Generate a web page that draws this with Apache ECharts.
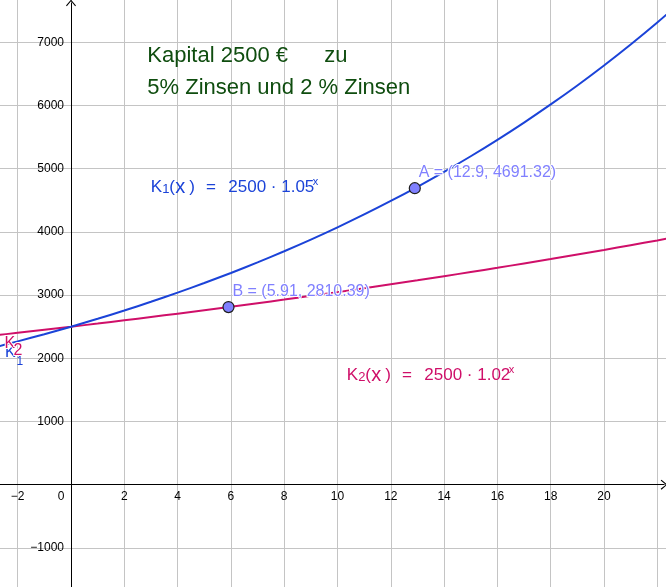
<!DOCTYPE html>
<html><head><meta charset="utf-8">
<script src="https://cdn.jsdelivr.net/npm/echarts@6/dist/echarts.min.js"></script>
<style>html,body{margin:0;padding:0;background:#fff}#c{width:666px;height:587px}</style>
</head><body><div id="c"></div>
<script>
// ---- data ----
const xValues  = [-3,-2,-1,0,1,2,3,4,5,6,7,8,9,10,11,12,13,14,15,16,17,18,19,20,21,22,23];
const k1Values = [2160,2268,2381,2500,2625,2756,2894,3039,3191,3350,3518,3694,3878,4072,4276,4490,4714,4950,5197,5457,5730,6017,6317,6633,6965,7313,7679];
const k2Values = [2356,2403,2451,2500,2550,2601,2653,2706,2760,2815,2872,2929,2988,3047,3108,3171,3234,3299,3365,3432,3501,3571,3642,3715,3789,3865,3942];
const pointNames = ['A','B'];
const pointX = [12.9, 5.91];
const pointY = [4691.32, 2810.39];
const xTickValues = [-2,0,2,4,6,8,10,12,14,16,18,20];
const yTickValues = [-1000,1000,2000,3000,4000,5000,6000,7000];
const titleLine1 = 'Kapital 2500 €';
const titleWord = 'zu';
const titleLine2 = '5% Zinsen und 2 % Zinsen';

// ---- layout ----
const W = 666, H = 587;
const X0 = 71, PX = 26.65;      // pixel of x=0, px per x unit
const Y0 = 484.7, PY = 0.0632;  // pixel of y=0, px per y unit
const ext = {xMin:-4, xMax:24, yMin:-2000, yMax:8000};
const gridExt = {
  left: X0 + ext.xMin*PX,
  right: W - (X0 + ext.xMax*PX),
  top: Y0 - ext.yMax*PY,
  bottom: H - (Y0 - ext.yMin*PY),
  outerBoundsMode: 'none', containLabel: false
};
const xAxisOffset = -(ext.yMin*-PY);   // move label row from grid bottom up to y = 0
const yAxisOffset = -(X0 - gridExt.left); // move label column from grid left to x = 0
const g1 = {left:0, right:2, top:3, bottom:0, outerBoundsMode:'none', containLabel:false};
const ax1 = {
  xMin: (g1.left - X0)/PX, xMax: (W - g1.right - X0)/PX,
  yMax: (Y0 - g1.top)/PY, yMin: -(H - g1.bottom - Y0)/PY
};
const BLUE = '#1b43d8', PINK = '#cf0f69', GREEN = '#0f4d0f', PT = '#8080ff';
const FONT = '"Liberation Sans", Arial, sans-serif';
const chevron = 'path://M0,0 L6,7 L5,8 L0,1.8 L-5,8 L-6,7 Z';

function minus(v){ return v < 0 ? '\u2212' + Math.abs(v) : String(v); }
function isTick(list, v){ return list.some(t => Math.abs(t - v) < 1e-6); }

function txt(x, y, text, color, size, extra){
  return Object.assign({type:'text', x:x, y:y, z:100,
    style:Object.assign({text:text, fill:color, font:size+'px '+FONT, align:'left', verticalAlign:'middle'}, extra||{})});
}
function formula(x, y, color, idx, base){
  return [
    txt(x, y, 'K', color, 17),
    txt(x+11.5, y+2, idx, color, 13),
    txt(x+18.6, y, '(', color, 17),
    txt(x+24.5, y, 'x', color, 20),
    txt(x+38.6, y, ')', color, 17),
    txt(x+55.3, y, '=', color, 17),
    txt(x+77.6, y, '2500 \u00b7 ' + base, color, 17),
    txt(x+162, y-5, 'x', color, 11)
  ];
}

const chart = echarts.init(document.getElementById('c'), null, {renderer:'canvas'});
chart.setOption({
  animation:false,
  backgroundColor:'#fff',
  grid:[gridExt, g1],
  xAxis:[
    {type:'value', gridIndex:0, min:ext.xMin, max:ext.xMax, interval:2, position:'bottom', offset:xAxisOffset,
     axisLine:{show:false, onZero:false},
     axisTick:{show:false},
     axisLabel:{fontSize:12, color:'#000', fontFamily:FONT, margin:6,
       formatter:v => !isTick(xTickValues, v) ? '' : (Math.abs(v) < 1e-6 ? '{o|0}' : minus(v)),
       rich:{o:{fontSize:12, color:'#000', fontFamily:FONT, padding:[0,20,0,0]}}},
     splitLine:{show:true, lineStyle:{color:'#c4c4c4', width:1}}},
    {type:'value', gridIndex:1, min:ax1.xMin, max:ax1.xMax,
     axisLine:{show:true, onZero:true, symbol:['none', chevron], symbolSize:[10,7], lineStyle:{color:'#000', width:1}},
     axisTick:{show:false}, axisLabel:{show:false}, splitLine:{show:false}}
  ],
  yAxis:[
    {type:'value', gridIndex:0, min:ext.yMin, max:ext.yMax, interval:1000, position:'left', offset:yAxisOffset,
     axisLine:{show:false, onZero:false},
     axisTick:{show:false},
     axisLabel:{fontSize:12, color:'#000', fontFamily:FONT, margin:7,
       formatter:v => isTick(yTickValues, v) ? minus(v) : ''},
     splitLine:{show:true, lineStyle:{color:'#c4c4c4', width:1}}},
    {type:'value', gridIndex:1, min:ax1.yMin, max:ax1.yMax,
     axisLine:{show:true, onZero:true, symbol:['none', chevron], symbolSize:[10,7], lineStyle:{color:'#000', width:1}},
     axisTick:{show:false}, axisLabel:{show:false}, splitLine:{show:false}}
  ],
  series:[
    {type:'line', name:'K2', xAxisIndex:0, yAxisIndex:0, smooth:0.3, showSymbol:false, z:3,
     lineStyle:{color:PINK, width:2}, data:xValues.map((x,i)=>[x,k2Values[i]])},
    {type:'line', name:'K1', xAxisIndex:0, yAxisIndex:0, smooth:0.3, showSymbol:false, z:4,
     lineStyle:{color:BLUE, width:2}, data:xValues.map((x,i)=>[x,k1Values[i]])},
    {type:'scatter', name:'points', xAxisIndex:0, yAxisIndex:0, z:6, symbolSize:11,
     itemStyle:{color:PT, borderColor:'#1e1e1e', borderWidth:1.2, opacity:1},
     label:{show:true, position:[10,-9.5], align:'left', verticalAlign:'middle',
       fontSize:16, fontFamily:FONT, color:PT, textBorderColor:'#fff', textBorderWidth:2,
       formatter:p => p.data.name + ' = (' + p.data.value[0] + ', ' + p.data.value[1] + ')'},
     data:pointNames.map((n,i)=>({name:n, value:[pointX[i], pointY[i]]}))}
  ],
  graphic:[
    txt(147.3, 55.5, titleLine1, GREEN, 22),
    txt(324.3, 55.5, titleWord, GREEN, 22),
    txt(147.3, 87.8, titleLine2, GREEN, 22),
    ...formula(150.7, 187, BLUE, '1', '1.05'),
    ...formula(346.7, 375, PINK, '2', '1.02'),
    // curve name labels at the left edge
    txt(5, 353, 'K', BLUE, 16),
    txt(16.5, 362, '1', BLUE, 12),
    txt(4.5, 344, 'K', PINK, 16, {stroke:'#fff', lineWidth:2}),
    txt(13.5, 351, '2', PINK, 16, {stroke:'#fff', lineWidth:2})
  ]
});
</script></body></html>
